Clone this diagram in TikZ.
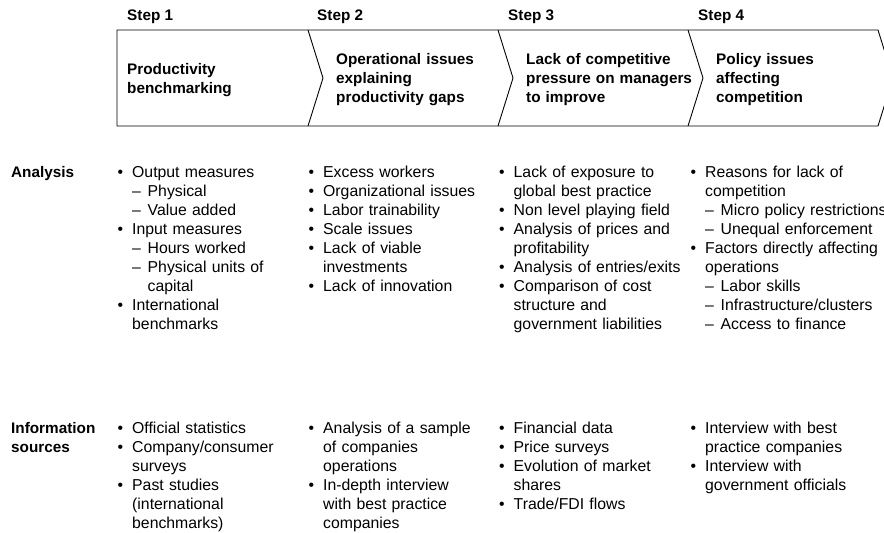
\documentclass[tikz,border=0pt]{standalone}
\usepackage{fontspec}
\setmainfont{Liberation Sans}
\newcommand{\bul}[1]{\parskip=0pt\noindent\hangindent=14.5pt\hangafter=1\makebox[14.5pt][l]{\textbullet}#1\par}
\newcommand{\subbul}[1]{\parskip=0pt\noindent\hangindent=30pt\hangafter=1\hspace*{14.5pt}\makebox[15.5pt][l]{–}#1\par}

\begin{document}
\begin{tikzpicture}[x=1pt, y=-1pt,
		steplabel/.style={anchor=base west, inner sep=0pt, font=\fontsize{15.3}{19}\selectfont\bfseries},
		boxtitle/.style={anchor=base west, inner sep=0pt, text width=175pt, align=left,
			font=\fontsize{15.3}{19}\selectfont\bfseries},
		rowlabel/.style={boxtitle, text width=95pt},
		itemlist/.style={anchor=base west, inner sep=0pt, text width=215pt, align=left,
			font=\fontsize{15.8}{19}\selectfont},
		chevline/.style={draw=black, line width=0.9pt, line join=miter}
	]
		\useasboundingbox (0,0) rectangle (884,533);
		\fill[white] (0,0) rectangle (884,533);
		\clip (0,0) rectangle (884,533);
		% chevron band
		\draw[chevline] (117,30) -- (878,30) -- (893,78) -- (878,126) -- (117,126) -- cycle;
		\foreach \cx in {308,498,688}
			\draw[chevline] (\cx,30) -- ++(15,48) -- ++(-15,48);
		% step headings
		\node[steplabel] (step1) at (127,20) {Step 1};
		\node[steplabel] (step2) at (317,20) {Step 2};
		\node[steplabel] (step3) at (508,20) {Step 3};
		\node[steplabel] (step4) at (698,20) {Step 4};
		\node[boxtitle] (title1) at (127,74) {Productivity\\benchmarking};
		\node[boxtitle] (title2) at (336,64) {Operational issues\\explaining\\productivity gaps};
		\node[boxtitle] (title3) at (526,64) {Lack of competitive\\pressure on managers\\to improve};
		\node[boxtitle] (title4) at (716,64) {Policy issues\\affecting\\competition};
		% row labels
		\node[rowlabel] (analysis) at (11,177) {Analysis};
		\node[rowlabel] (sources) at (11,433) {Information\\sources};
		% analysis row
		\node[itemlist] (ana1) at (117.5,177) {%
			\bul{Output measures}
			\subbul{Physical}
			\subbul{Value added}
			\bul{Input measures}
			\subbul{Hours worked}
			\subbul{Physical units of\newline capital}
			\bul{International\newline benchmarks}};
		\node[itemlist] (ana2) at (308.5,177) {%
			\bul{Excess workers}
			\bul{Organizational issues}
			\bul{Labor trainability}
			\bul{Scale issues}
			\bul{Lack of viable\newline investments}
			\bul{Lack of innovation}};
		\node[itemlist] (ana3) at (499,177) {%
			\bul{Lack of exposure to\newline global best practice}
			\bul{Non level playing field}
			\bul{Analysis of prices and\newline profitability}
			\bul{Analysis of entries/exits}
			\bul{Comparison of cost\newline structure and\newline government liabilities}};
		\node[itemlist] (ana4) at (690.5,177) {%
			\bul{Reasons for lack of\newline competition}
			\subbul{Micro policy restrictions}
			\subbul{Unequal enforcement}
			\bul{Factors directly affecting\newline operations}
			\subbul{Labor skills}
			\subbul{Infrastructure/clusters}
			\subbul{Access to finance}};
		% information sources row
		\node[itemlist] (src1) at (117.5,433) {%
			\bul{Official statistics}
			\bul{Company/consumer\newline surveys}
			\bul{Past studies\newline (international\newline benchmarks)}};
		\node[itemlist] (src2) at (308.5,433) {%
			\bul{Analysis of a sample\newline of companies\newline operations}
			\bul{In-depth interview\newline with best practice\newline companies}};
		\node[itemlist] (src3) at (499,433) {%
			\bul{Financial data}
			\bul{Price surveys}
			\bul{Evolution of market\newline shares}
			\bul{Trade/FDI flows}};
		\node[itemlist] (src4) at (690.5,433) {%
			\bul{Interview with best\newline practice companies}
			\bul{Interview with\newline government officials}};
	\end{tikzpicture}
\end{document}
